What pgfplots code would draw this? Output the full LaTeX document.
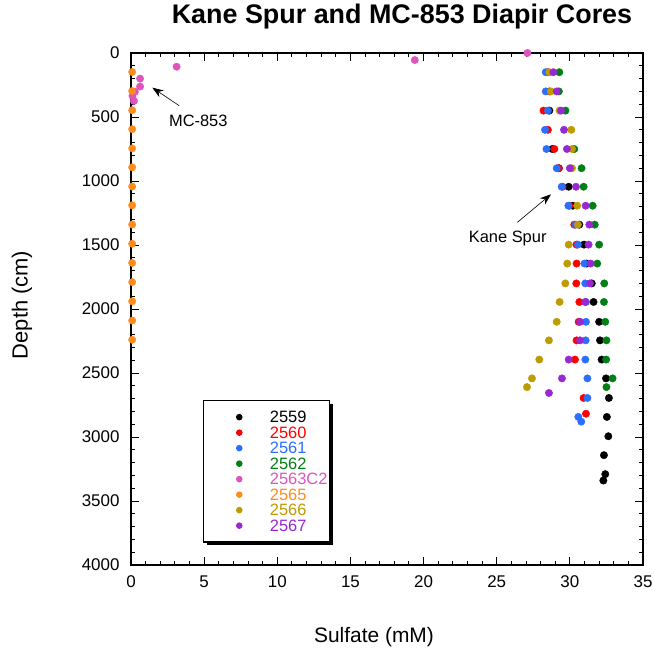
\documentclass[border=0pt]{standalone}
\usepackage{pgfplots}
\pgfplotsset{compat=1.18}
\usepackage{fontspec}
\setmainfont{Liberation Sans}
\usetikzlibrary{shadows,arrows.meta}
\definecolor{cA}{RGB}{0,0,0}
\definecolor{cB}{RGB}{255,0,0}
\definecolor{cC}{RGB}{43,111,255}
\definecolor{cD}{RGB}{0,128,20}
\definecolor{cE}{RGB}{221,85,187}
\definecolor{cF}{RGB}{255,140,26}
\definecolor{cG}{RGB}{190,155,0}
\definecolor{cH}{RGB}{153,40,210}
\begin{document}
\begin{tikzpicture}
\begin{axis}[
  at={(0,0)}, anchor=south west,
  scale only axis, width=512bp, height=512bp,
  xmin=0, xmax=35, ymin=0, ymax=4000, y dir=reverse,
  xtick={0,5,...,35}, ytick={0,500,...,4000},
  minor x tick num=4, minor y tick num=4,
  major tick length=8bp, minor tick length=4bp,
  tick align=inside,
  every tick/.style={line width=0.9bp, black},
  axis line style={line width=1.5bp, black},
  /pgf/number format/assume math mode=true,
  /pgf/number format/1000 sep={},
  ticklabel style={font=\fontsize{17}{17}\selectfont},
  xticklabel style={yshift=-7bp},
  yticklabel style={xshift=-8bp},
  clip=false,
  every axis plot/.append style={only marks, mark=*, mark size=3.7bp},
  legend style={at={(0.1406,0.3223)}, anchor=north west, draw=black, line width=1.3bp, fill=white,
    general shadow={fill=black, shadow xshift=3bp, shadow yshift=-3bp},
    inner xsep=2bp, inner ysep=11bp, row sep=4.5bp,
    font=\fontsize{16.5}{16.5}\selectfont,
    nodes={inner sep=0bp, text height=11bp, text depth=0bp},
    /tikz/every odd column/.append style={column sep=23bp}},
  legend cell align=left,
  legend image code/.code={\path (0bp,0bp) (40bp,0bp); \draw[#1, only marks, mark=*, mark size=2.6bp] plot coordinates {(33bp,0bp)};},
]
% 2559
\addplot[color=cA] coordinates {
(28.6,450) (28.8,750) (29.25,900) (29.92,1045) (30.2,1193) (30.65,1341) (30.97,1497) (31.15,1645)
(31.5,1800) (31.62,1945) (32.0,2100) (32.06,2245) (32.17,2395) (32.47,2542) (32.67,2695) (32.53,2843)
(32.63,2994) (32.33,3142) (32.42,3290) (32.29,3340)};
\addlegendentry{\textcolor{cA}{2559}}
% 2560
\addplot[color=cB] coordinates {
(28.5,150) (28.6,300) (28.2,450) (28.5,600) (28.94,750) (29.24,900) (29.5,1045) (29.96,1193)
(30.3,1341) (30.45,1497) (30.46,1645) (30.44,1800) (30.65,1945) (30.6,2100) (30.46,2245) (30.35,2395)
(30.94,2695) (31.1,2818)};
\addlegendentry{\textcolor{cB}{2560}}
% 2561
\addplot[color=cC] coordinates {
(28.35,150) (28.35,300) (28.5,450) (28.3,600) (28.4,750) (29.1,900) (29.44,1045) (29.9,1193)
(30.4,1341) (30.55,1497) (31.0,1645) (31.05,1800) (31.1,1945) (31.1,2100) (31.08,2245) (31.06,2395)
(31.2,2542) (31.2,2695) (30.58,2843) (30.78,2880)};
\addlegendentry{\textcolor{cC}{2561}}
% 2562
\addplot[color=cD] coordinates {
(29.28,150) (29.25,300) (29.7,450) (30.3,750) (30.8,900) (30.94,1045) (31.56,1193) (31.7,1341)
(32.0,1497) (31.87,1645) (32.35,1800) (32.33,1945) (32.42,2100) (32.5,2245) (32.48,2395) (32.92,2542)
(32.5,2610)};
\addlegendentry{\textcolor{cD}{2562}}
% 2563C2
\addplot[color=cE] coordinates {
(27.1,0) (19.4,55) (3.12,107) (0.62,200) (0.62,262) (0.27,302) (0.1,335) (0.2,374)};
\addlegendentry{\textcolor{cE}{2563C2}}
% 2565
\addplot[color=cF] coordinates {
(0.08,148) (0.08,297) (0.08,447) (0.08,595) (0.08,745) (0.08,893) (0.08,1043) (0.08,1190)
(0.08,1340) (0.08,1490) (0.08,1640) (0.08,1790) (0.08,1940) (0.08,2090) (0.08,2240)};
\addlegendentry{\textcolor{cF}{2565}}
% 2566
\addplot[color=cG] coordinates {
(28.6,150) (28.7,300) (29.3,450) (30.1,600) (30.15,750) (30.15,900) (30.5,1193) (30.55,1341)
(29.92,1497) (29.82,1645) (29.69,1800) (29.3,1945) (29.1,2100) (28.57,2245) (27.91,2395) (27.41,2542)
(27.07,2610)};
\addlegendentry{\textcolor{cG}{2566}}
% 2567
\addplot[color=cH] coordinates {
(28.87,150) (29.1,300) (29.4,450) (29.6,600) (29.8,750) (30.0,900) (30.42,1045) (31.08,1193)
(31.33,1341) (31.28,1497) (31.42,1645) (31.37,1800) (31.05,1945) (30.7,2100) (30.69,2245) (29.92,2395)
(29.46,2542) (28.57,2656)};
\addlegendentry{\textcolor{cH}{2567}}
% annotations
\draw[-{Stealth[length=11bp,width=8bp]}, line width=0.6bp] (axis cs:3.30,412) -- (axis cs:1.46,271);
\node[font=\fontsize{16.5}{16.5}\selectfont] at (axis cs:4.60,531) {MC-853};
\draw[-{Stealth[length=11bp,width=8bp]}, line width=0.6bp] (axis cs:26.41,1323) -- (axis cs:28.71,1104);
\node[font=\fontsize{16.5}{16.5}\selectfont] at (axis cs:25.75,1448) {Kane Spur};
\end{axis}
\node[font=\fontsize{27}{27}\selectfont\bfseries] at (271bp,548bp) {Kane Spur and MC-853 Diapir Cores};
\node[font=\fontsize{22}{22}\selectfont, rotate=90] at (-109bp,260bp) {Depth (cm)};
\node[font=\fontsize{21}{21}\selectfont] at (243bp,-72bp) {Sulfate (mM)};
\pgfresetboundingbox
\path[use as bounding box] (-131bp,-90bp) rectangle (523bp,565bp);
\end{tikzpicture}
\end{document}
